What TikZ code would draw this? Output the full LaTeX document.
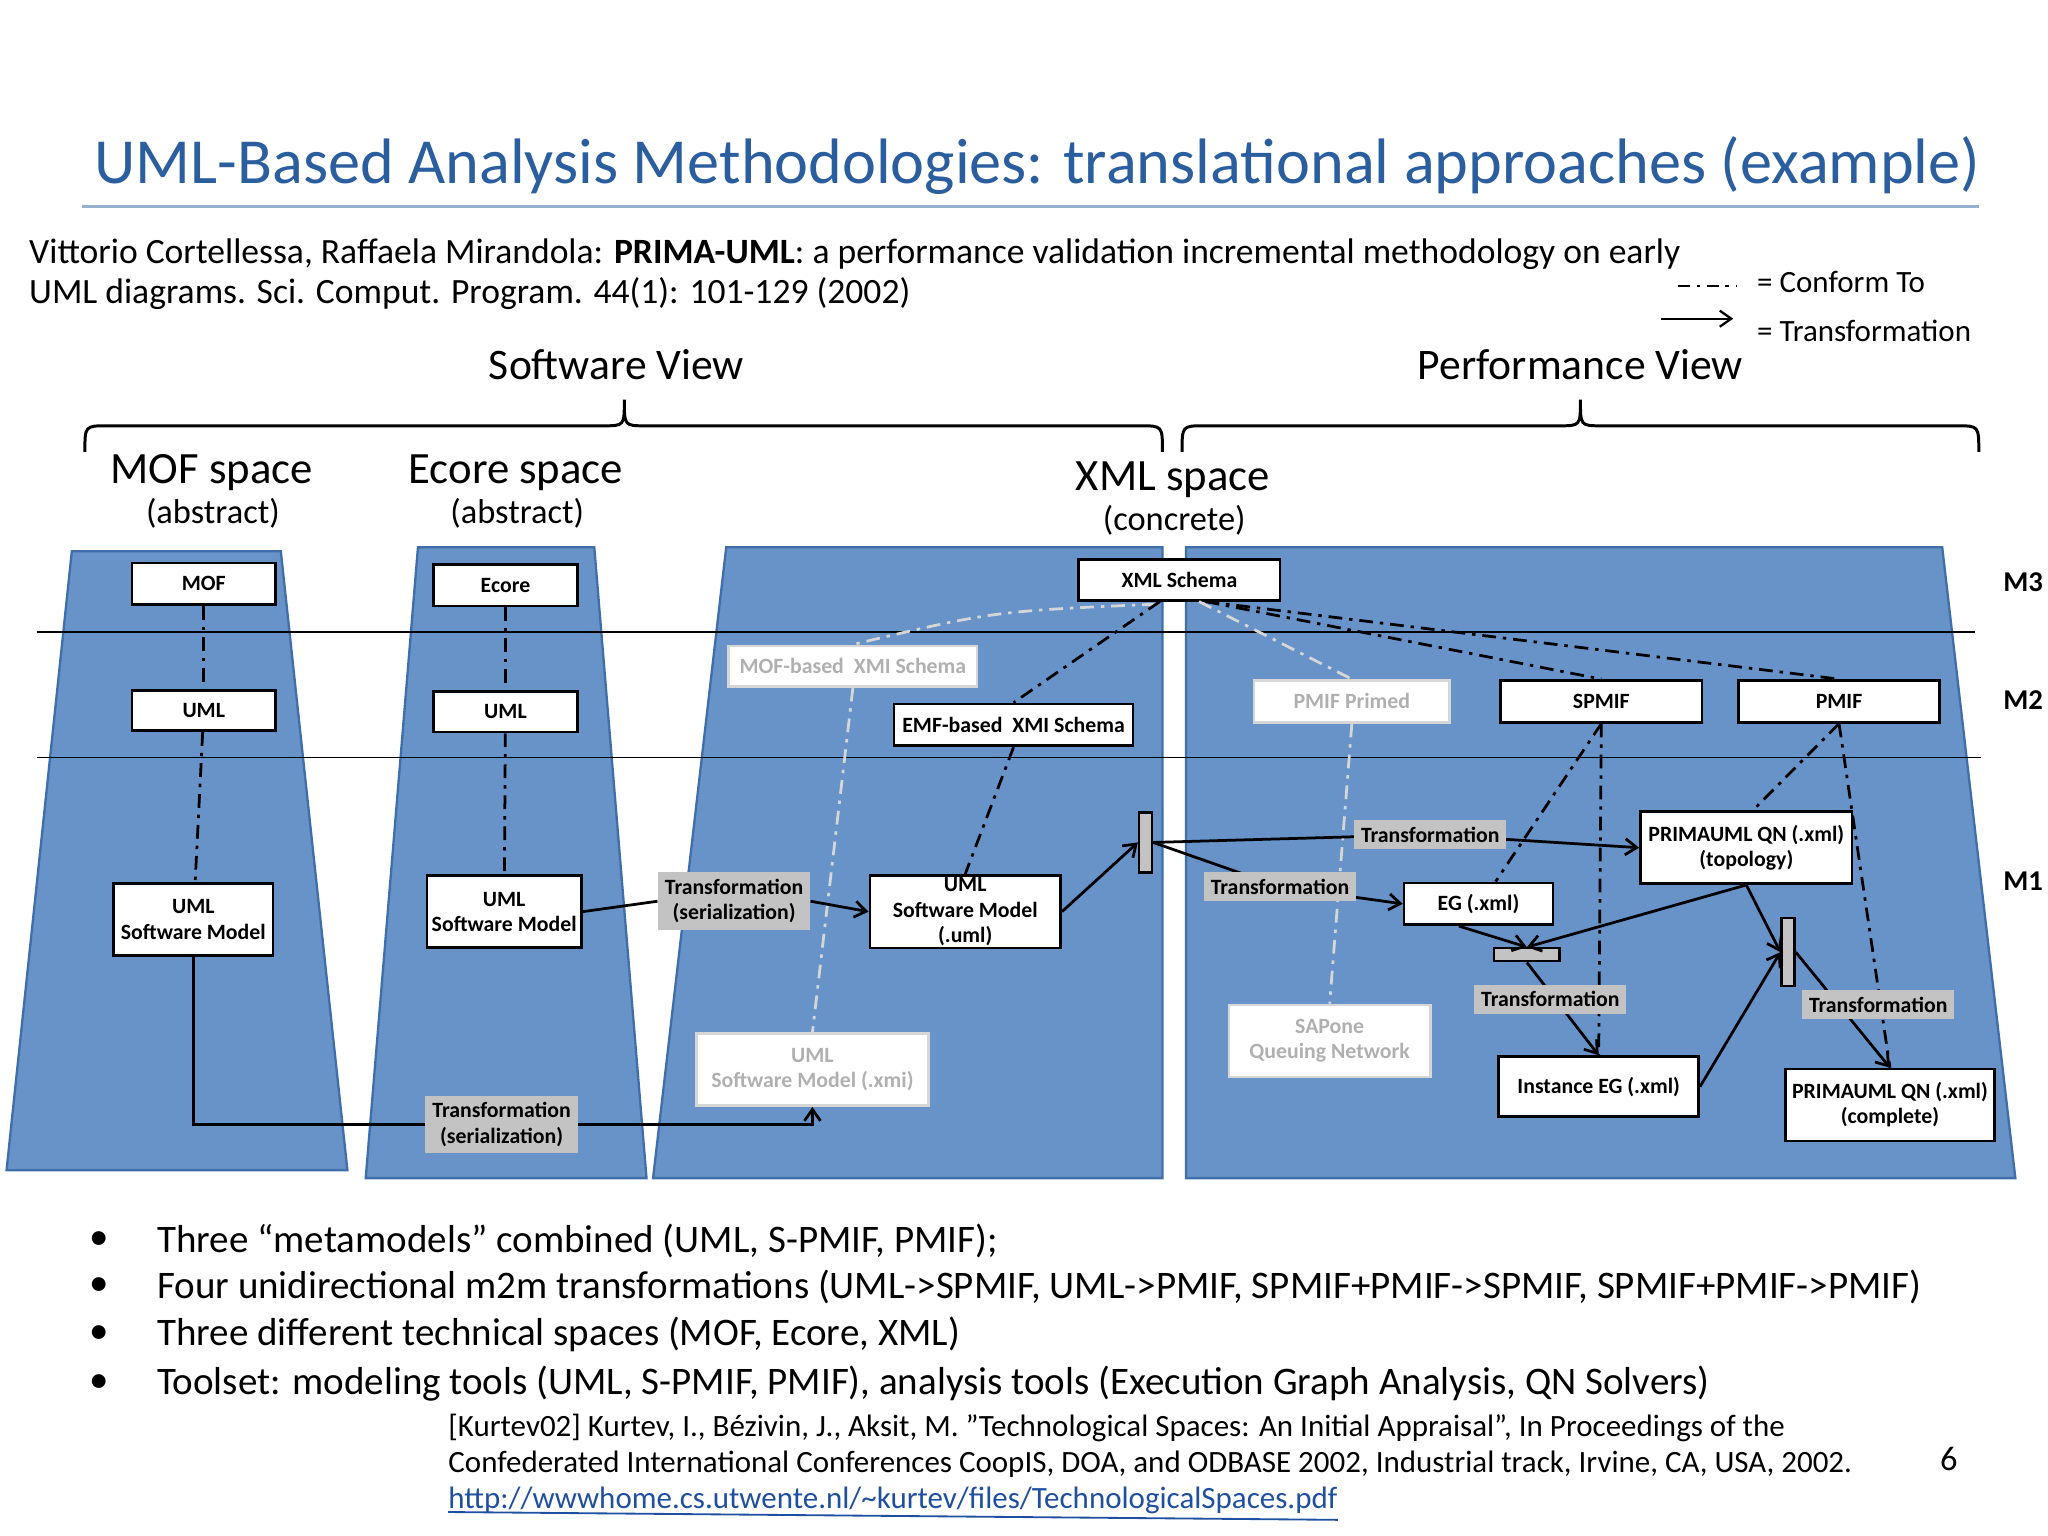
\documentclass[tikz,border=0pt]{standalone}
\usepackage{fontspec}
\setmainfont{Carlito}
\usetikzlibrary{arrows.meta}
\definecolor{tb}{HTML}{2A5E9E}
\definecolor{bl}{HTML}{6793C9}
\definecolor{bld}{HTML}{3F6EA8}
\definecolor{gl}{HTML}{C3C3C3}
\definecolor{fa}{HTML}{D6D6D6}
\definecolor{fat}{HTML}{B0B0B0}
\definecolor{lk}{HTML}{1F4FA0}
\tikzset{
 bx/.style 2 args={draw,line width=1.2pt,fill=white,minimum width=#1*0.02cm,minimum height=#2*0.02cm,inner sep=1pt,align=center,font=\fontsize{9.5}{11}\selectfont\bfseries},
 fbx/.style 2 args={draw=fa,line width=1.2pt,fill=white,text=fat,minimum width=#1*0.02cm,minimum height=#2*0.02cm,inner sep=1pt,align=center,font=\fontsize{9.5}{11}\selectfont\bfseries},
 tl/.style={fill=gl,inner sep=3pt,align=center,font=\fontsize{9.5}{11}\selectfont\bfseries},
 bar/.style 2 args={draw,line width=1pt,fill=gl,minimum width=#1*0.02cm,minimum height=#2*0.02cm,inner sep=0pt},
 cf/.style={line width=1.2pt,dash pattern=on 6pt off 3pt on 1.5pt off 3pt},
 fcf/.style={draw=fa,line width=1.2pt,dash pattern=on 6pt off 3pt on 1.5pt off 3pt},
 tr/.style={line width=1.2pt,-{Straight Barb[length=5pt,width=7pt]}},
 ln/.style={line width=1.2pt},
 tx/.style={inner sep=0pt,anchor=west},
}
\begin{document}
\begin{tikzpicture}[x=0.02cm,y=-0.02cm]
\useasboundingbox (0,0) rectangle (1568,1176);
% title
\node[tx,text=tb,font=\fontsize{28}{30}\selectfont] (title) at (72,127) {UML-Based Analysis Methodologies: translational approaches (example)};
\draw[line width=1.2pt,draw=tb!50] (63,158) -- (1515,158);
\node[tx,font=\fontsize{15.5}{18}\selectfont] (cit1) at (22,195) {Vittorio Cortellessa, Raffaela Mirandola: \textbf{PRIMA-UML}: a performance validation incremental methodology on early};
\node[tx,font=\fontsize{15.5}{18}\selectfont] (cit2) at (22,225) {UML diagrams. Sci. Comput. Program. 44(1): 101-129 (2002)};
% legend
\coordinate (l1a) at (1285,219); \coordinate (l1b) at (1330,219);
\draw[line width=1pt,dash pattern=on 5pt off 3pt on 1.5pt off 3pt] (l1a) -- (l1b);
\node[tx,font=\fontsize{13.5}{16}\selectfont] (lg1) at (1345,216) {= Conform To};
\coordinate (l2a) at (1272,244); \coordinate (l2b) at (1327,244);
\draw[line width=1pt,-{Straight Barb[length=5pt,width=7pt]}] (l2a) -- (l2b);
\node[tx,font=\fontsize{13.5}{16}\selectfont] (lg2) at (1345,253) {= Transformation};
% views
\node[font=\fontsize{19}{22}\selectfont] (sv) at (472,279) {Software View};
\node[font=\fontsize{19}{22}\selectfont] (pv) at (1210,279) {Performance View};
\draw[line width=1.3pt] (65,346) .. controls (65,326) .. (82,326) -- (462,326) .. controls (478,326) .. (478,306) .. controls (478,326) .. (494,326) -- (873,326) .. controls (890,326) .. (890,346);
\draw[line width=1.3pt] (905,346) .. controls (905,326) .. (922,326) -- (1194,326) .. controls (1210,326) .. (1210,306) .. controls (1210,326) .. (1226,326) -- (1498,326) .. controls (1515,326) .. (1515,346);
% space titles
\node[font=\fontsize{19.5}{22}\selectfont] (ms) at (162,362) {MOF space};
\node[font=\fontsize{15}{18}\selectfont] (ma) at (163,393) {(abstract)};
\node[font=\fontsize{19.5}{22}\selectfont] (es) at (395,362) {Ecore space};
\node[font=\fontsize{15}{18}\selectfont] (ea) at (396,393) {(abstract)};
\node[font=\fontsize{19.5}{22}\selectfont] (xs) at (898,367) {XML space};
\node[font=\fontsize{15}{18}\selectfont] (xa) at (899,398) {(concrete)};
% trapezoids
\filldraw[fill=bl,draw=bld,line width=1pt] (5,896) -- (55,422) -- (215,422) -- (266,896) -- cycle;
\filldraw[fill=bl,draw=bld,line width=1pt] (280,902) -- (320,419) -- (455,419) -- (495,902) -- cycle;
\filldraw[fill=bl,draw=bld,line width=1pt] (500,902) -- (556,419) -- (890,419) -- (890,902) -- cycle;
\filldraw[fill=bl,draw=bld,line width=1pt] (908,902) -- (908,419) -- (1487,419) -- (1543,902) -- cycle;
% level lines
\draw[line width=0.8pt] (28,484) -- (1512,484);
\draw[line width=0.8pt] (28,580) -- (1517,580);
\node[font=\fontsize{12.5}{14}\selectfont\bfseries] (m3) at (1549,446) {M3};
\node[font=\fontsize{12.5}{14}\selectfont\bfseries] (m2) at (1549,536) {M2};
\node[font=\fontsize{12.5}{14}\selectfont\bfseries] (m1) at (1549,675) {M1};
% nodes
\node[bx={110}{32}] (mof) at (156,447) {MOF};
\node[bx={110}{31}] (uml1) at (156,544) {UML};
\node[bx={122}{55}] (sm1) at (148,704) {UML\\Software Model};
\node[bx={110}{32}] (ecore) at (387,448) {Ecore};
\node[bx={110}{31}] (uml2) at (387,545) {UML};
\node[bx={118}{55}] (sm2) at (386,698) {UML\\Software Model};
\node[bx={154}{31}] (xsd) at (903,444) {XML Schema};
\node[fbx={190}{31}] (mofx) at (653,510) {MOF-based\ \ XMI Schema};
\node[bx={183}{32}] (emfx) at (776,555) {EMF-based\ \ XMI Schema};
\node[bx={146}{55}] (smu) at (739,698) {UML\\Software Model\\(.uml)};
\node[fbx={178}{55}] (smx) at (622,819) {UML\\Software Model (.xmi)};
\node[tl] (t1) at (562,690) {Transformation\\(serialization)};
\node[tl] (t2) at (384,861) {Transformation\\(serialization)};
\node[bar={10}{46}] (b1) at (877,645) {};
\node[fbx={150}{32}] (pp) at (1035,537) {PMIF Primed};
\node[bx={154}{32}] (spmif) at (1226,537) {SPMIF};
\node[bx={154}{32}] (pmif) at (1408,537) {PMIF};
\node[bx={162}{55}] (qnt) at (1337,649) {PRIMAUML QN (.xml)\\(topology)};
\node[bx={114}{32}] (eg) at (1132,692) {EG (.xml)};
\node[bar={50}{10}] (b2) at (1169,731) {};
\node[bx={153}{46}] (ieg) at (1224,832) {Instance EG (.xml)};
\node[bar={10}{52}] (b3) at (1369,729) {};
\node[bx={160}{55}] (qnc) at (1447,846) {PRIMAUML QN (.xml)\\(complete)};
\node[fbx={154}{55}] (sap) at (1018,797) {SAPone\\Queuing Network};
% faint conform
\draw[fcf] (xsd.south west) ++(60,2) .. controls (760,468) .. (mofx.north);
\draw[fcf] (mofx.south) -- (smx.north);
\draw[fcf] ([xshift=0.3cm]xsd.south) -- (pp.north);
\draw[fcf] (pp.south) -- (sap.north);
% conform
\draw[cf] (mof) -- (uml1); \draw[cf] (uml1) -- (sm1);
\draw[cf] (ecore) -- (uml2); \draw[cf] (uml2) -- (sm2);
\draw[cf] ([xshift=-0.3cm]xsd.south) -- (emfx.north);
\draw[cf] (emfx.south) -- (smu.north);
\draw[cf] ([xshift=0.4cm]xsd.south) -- (spmif.north);
\draw[cf] ([xshift=0.4cm]xsd.south) -- (pmif.north);
\draw[cf] (spmif.south) -- ([xshift=-0.9cm]eg.north east);
\draw[cf] (spmif.south) -- (ieg.north);
\draw[cf] (pmif.south) -- ([xshift=0.1cm]qnt.north);
\draw[cf] (pmif.south) -- (qnc.north);
% transformations
\coordinate (c1) at (148,861);
\draw[ln] (sm1.south) -- (c1) -- (t2.west);
\coordinate (c2) at (622,861);
\draw[tr] (t2.east) -- (c2) -- (smx.south);
\draw[ln] (sm2.east) -- (t1.west);
\draw[tr] (t1.east) -- (smu.west);
\draw[tr] (smu.east) -- (b1.west);
\coordinate (ta) at (1095,639);
\draw[ln] (b1.east) -- (ta);
\draw[tr] (ta) -- (qnt.west);
\coordinate (tb) at (980,679);
\draw[ln] (b1.east) -- (tb);
\draw[tr] (tb) -- (eg.west);
\node[tl] (t3) at (1095,639) {Transformation};
\node[tl] (t4) at (980,679) {Transformation};
\draw[tr] ([xshift=-0.3cm]eg.south) -- (b2.north);
\draw[tr] (qnt.south) -- (b2.north);
\draw[tr] (b2.south) -- (ieg.north);
\node[tl] (t5) at (1187,765) {Transformation};
\draw[tr] (ieg.east) -- (b3.west);
\draw[tr] (qnt.south) -- (b3.west);
\draw[tr] (b3.east) -- (qnc.north);
\node[tl] (t6) at (1438,769) {Transformation};
% bullets
\foreach \y/\t [count=\i] in {950/{Three “metamodels” combined (UML, S-PMIF, PMIF);},985/{Four unidirectional m2m transformations (UML->SPMIF, UML->PMIF, SPMIF+PMIF->SPMIF, SPMIF+PMIF->PMIF)},1022/{Three different technical spaces (MOF, Ecore, XML)},1059/{Toolset: modeling tools (UML, S-PMIF, PMIF), analysis tools (Execution Graph Analysis, QN Solvers)}}{
 \node[font=\fontsize{17}{20}\selectfont] (d\i) at (76,\y) {•};
 \node[tx,font=\fontsize{17}{20}\selectfont] (bt\i) at (120,\y) {\t};
}
\node[tx,font=\fontsize{13.5}{16}\selectfont] (r1) at (343,1093) {[Kurtev02] Kurtev, I., Bézivin, J., Aksit, M. "Technological Spaces: An Initial Appraisal", In Proceedings of the};
\node[tx,font=\fontsize{13.5}{16}\selectfont] (r2) at (343,1121) {Confederated International Conferences CoopIS, DOA, and ODBASE 2002, Industrial track, Irvine, CA, USA, 2002.};
\node[tx,text=lk,font=\fontsize{13.5}{16}\selectfont] (r3) at (343,1149) {http://wwwhome.cs.utwente.nl/\~{}kurtev/files/TechnologicalSpaces.pdf};
\draw[lk,line width=0.8pt] (r3.south west) ++(0,-2) -- ([yshift=-0.08cm]r3.south east);
\node[font=\fontsize{15}{18}\selectfont] (pg) at (1492,1117) {6};
\end{tikzpicture}
\end{document}
